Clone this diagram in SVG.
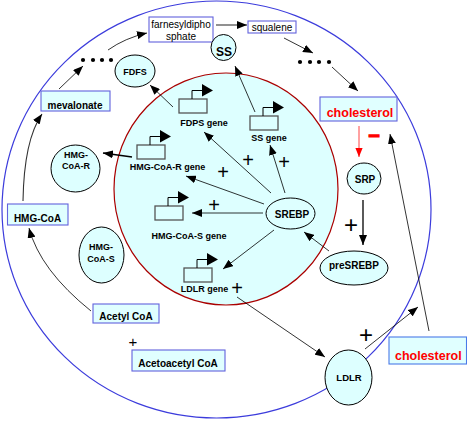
<svg xmlns="http://www.w3.org/2000/svg" xmlns:xlink="http://www.w3.org/1999/xlink" width="467" height="422" viewBox="0 0 467 422">
<style>
text{font-family:"Liberation Sans",Arial,sans-serif;fill:#000}
.b{font-weight:bold}
.lbl{font-size:10px;text-anchor:middle}
.gl{font-size:9px;font-weight:bold;text-anchor:middle}
.el{fill:#DDFFFF;stroke:#000;stroke-width:1}
.box{fill:#E0FFFF;stroke:#6262DD;stroke-width:1.1}
.boxw{fill:#FFFFFF;stroke:#6262DD;stroke-width:1.1}
.cn{fill:none;stroke:#000;stroke-width:0.8;marker-end:url(#ah)}
.plus{font-size:20px;text-anchor:middle}
.chol{font-size:12.5px;font-weight:bold;fill:#FF0000;text-anchor:middle}
</style>
<defs>
<marker id="ah" viewBox="0 0 10 8" refX="10" refY="4" markerWidth="10" markerHeight="8" markerUnits="userSpaceOnUse" orient="auto"><path d="M0,0L10,4L0,8z" fill="#000"/></marker>
<marker id="ahr" viewBox="0 0 10 8" refX="10" refY="4" markerWidth="9" markerHeight="8" markerUnits="userSpaceOnUse" orient="auto"><path d="M0,0L10,4L0,8z" fill="#FF0000"/></marker>
<g id="geneicon">
<rect x="0" y="0" width="28" height="14" fill="none" stroke="#555" stroke-width="1.3"/>
<path d="M13,0V-8.5H23" fill="none" stroke="#000" stroke-width="1"/>
<polygon points="23,-15 34,-8.5 23,-2.5" fill="#000"/>
</g>
</defs>

<g id="compartments">
<ellipse cx="216.5" cy="209.5" rx="214.5" ry="208.5" fill="#FFFFFF" stroke="#3C3CDC" stroke-width="1.2"/>
<ellipse cx="226" cy="189" rx="112" ry="116" fill="#DDFFFF" stroke="#AA0000" stroke-width="1.2"/>
</g>

<g id="connectors">
<path class="cn" d="M91,311Q40,270 29,228"/>
<path d="M23,201Q24,140 42,114" fill="none" stroke="#333" stroke-width="1.1" marker-end="url(#ah)"/>
<path class="cn" d="M59,89L83,66"/>
<path class="cn" d="M108,50Q125,38 147,33"/>
<path d="M216,25L247,25" fill="none" stroke="#555" stroke-width="1.3" marker-end="url(#ah)"/>
<path class="cn" d="M284,38L313,53"/>
<path class="cn" d="M332,67L358,91"/>
<path d="M359,126V157" fill="none" stroke="#FF4444" stroke-width="1" marker-end="url(#ahr)"/>
<path d="M363,200V245" fill="none" stroke="#000" stroke-width="1.3" marker-end="url(#ah)"/>
<path class="cn" d="M329,251L304,232"/>
<path class="cn" d="M285,193L270,145"/>
<path class="cn" d="M271,193L204,132"/>
<path class="cn" d="M264,204L186,176"/>
<path class="cn" d="M263,213L192,213"/>
<path class="cn" d="M274,230L223,269"/>
<path class="cn" d="M173,107L150,85"/>
<path class="cn" d="M255,112L235,66"/>
<path d="M132,157L103,153" fill="none" stroke="#000" stroke-width="1.6" marker-end="url(#ah)"/>
<path class="cn" d="M237,297L325,357"/>
<path class="cn" d="M365,349L418,307"/>
<path class="cn" d="M429,331L390,134"/>
</g>

<g id="dots1"><circle cx="83" cy="60" r="2.1"/><circle cx="93" cy="60" r="2.1"/><circle cx="102" cy="60" r="2.1"/><circle cx="111" cy="60" r="2.1"/></g>
<g id="dots2"><circle cx="300" cy="62" r="2.1"/><circle cx="310" cy="62" r="2.1"/><circle cx="319" cy="62" r="2.1"/><circle cx="329" cy="62" r="2.1"/></g>

<g id="farnesyl"><rect class="boxw" x="149" y="17" width="64" height="25"/><text class="lbl" x="181" y="28.2">farnesyldipho</text><text class="lbl" x="181" y="39.7">sphate</text></g>
<g id="squalene"><rect class="boxw" x="248" y="21" width="48" height="12"/><text class="lbl" x="272" y="30.5">squalene</text></g>
<g id="mevalonate"><rect class="box" x="41" y="91" width="69" height="20"/><text class="lbl b" x="75" y="108.5">mevalonate</text></g>
<g id="hmgcoa"><rect class="box" x="7.5" y="204" width="60.5" height="21"/><text class="lbl b" x="37.5" y="222.3">HMG-CoA</text></g>
<g id="acetylcoa"><rect class="box" x="93" y="304" width="66" height="19"/><text class="lbl b" x="126" y="320">Acetyl CoA</text></g>
<g id="acetoacetylcoa"><rect class="box" x="132" y="350" width="93" height="21"/><text class="lbl b" x="178" y="367.3">Acetoacetyl CoA</text></g>
<g id="cholesterol-top"><rect class="box" x="320" y="97" width="77" height="24" stroke="#4A4AE0"/><text class="chol" x="360" y="117.3">cholesterol</text></g>
<g id="cholesterol-bottom"><rect class="box" x="389" y="337" width="77.5" height="27" style="stroke:#4A7AE8"/><text class="chol" x="428.3" y="359.5">cholesterol</text></g>

<g id="fdfs"><ellipse class="el" cx="135" cy="71" rx="20" ry="16"/><text class="lbl b" style="font-size:9px" x="135" y="75">FDFS</text></g>
<g id="ss"><ellipse class="el" cx="223.5" cy="47.5" rx="12.5" ry="13"/><text class="lbl b" style="font-size:12px" x="224" y="56">SS</text></g>
<g id="hmgcoar"><ellipse class="el" cx="75.5" cy="168.5" rx="24.5" ry="23.5"/><text class="lbl b" style="font-size:9px" x="76" y="158">HMG-</text><text class="lbl b" style="font-size:9px" x="76" y="169">CoA-R</text></g>
<g id="hmgcoas"><ellipse class="el" cx="101.5" cy="255" rx="22.5" ry="28"/><text class="lbl b" style="font-size:9px" x="101" y="250">HMG-</text><text class="lbl b" style="font-size:9px" x="101" y="261.5">CoA-S</text></g>
<g id="srp"><ellipse class="el" cx="364" cy="178.5" rx="17" ry="15.5"/><text class="lbl b" x="365" y="183">SRP</text></g>
<g id="presrebp"><ellipse class="el" cx="354" cy="268" rx="34" ry="17"/><text class="lbl b" x="354" y="269">preSREBP</text></g>
<g id="srebp"><ellipse class="el" cx="290.5" cy="213.5" rx="24.5" ry="15.5"/><text class="lbl b" x="292" y="218">SREBP</text></g>
<g id="ldlr"><ellipse class="el" cx="348.5" cy="377.5" rx="23.5" ry="27.5"/><text class="lbl b" style="font-size:9.5px" x="349" y="381">LDLR</text></g>

<g id="fdps-gene"><use xlink:href="#geneicon" x="179" y="99"/><text class="gl" x="204" y="125.5">FDPS gene</text></g>
<g id="ss-gene"><use xlink:href="#geneicon" x="250" y="116"/><text class="gl" x="269" y="141">SS gene</text></g>
<g id="hmgcoar-gene"><use xlink:href="#geneicon" x="137" y="145"/><text class="gl" x="167.5" y="169.5">HMG-CoA-R gene</text></g>
<g id="hmgcoas-gene"><use xlink:href="#geneicon" x="155" y="206"/><text class="gl" x="189" y="238.5">HMG-CoA-S gene</text></g>
<g id="ldlr-gene"><use xlink:href="#geneicon" x="184" y="268"/><text class="gl" x="204.5" y="292">LDLR gene</text></g>

<g id="signs">
<text class="plus" x="248" y="167">+</text>
<text class="plus" x="223" y="179">+</text>
<text class="plus" x="284" y="169">+</text>
<text class="plus" x="214" y="212">+</text>
<text class="plus" x="237" y="295">+</text>
<text class="plus" style="font-size:24px" x="351" y="232.5">+</text>
<text class="plus" style="font-size:24px" x="366" y="342.5">+</text>
<text class="plus" style="font-size:15px" x="133" y="346.5">+</text>
<text x="374" y="141" style="font-size:20px;font-weight:bold;fill:#FF0000;stroke:#FF0000;stroke-width:1.2;text-anchor:middle">–</text>
</g>
</svg>
